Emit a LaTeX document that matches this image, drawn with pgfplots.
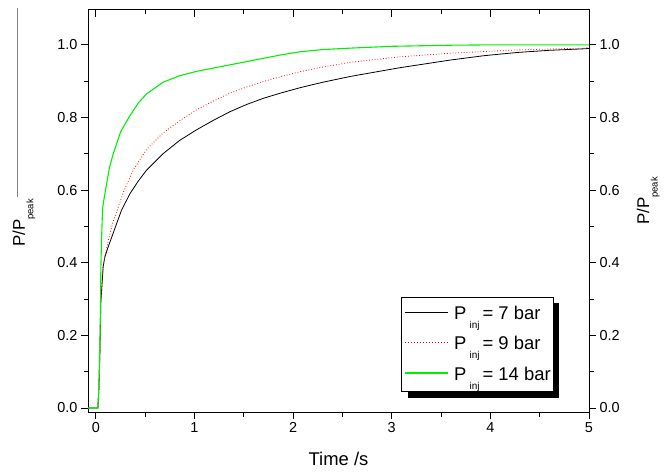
\documentclass[border=0pt]{standalone}
\usepackage{pgfplots}
\pgfplotsset{compat=1.18}
\usepackage{fontspec}
\setmainfont{Liberation Sans}

% lowered small subscript, as the original software sets it
\newcommand{\sub}[1]{\raisebox{-0.5em}{\fontsize{9.5}{9.5}\selectfont #1}}
\newcommand{\lsub}[1]{\,\raisebox{-0.5em}{\fontsize{10}{10}\selectfont #1}\,}

\definecolor{lgreen}{RGB}{0,240,0}

\pgfplotsset{
  base/.style={
    at={(88bp,61bp)}, anchor=south west,
    width=501bp, height=402bp, scale only axis,
    xmin=-0.08, xmax=5, ymin=-0.011, ymax=1.096,
    axis line style={line width=1bp},
    major tick length=7bp, minor tick length=4.5bp,
    every tick/.style={black, line width=0.9bp},
    /pgf/number format/assume math mode=true,
    tick label style={font=\fontsize{14.5}{14.5}\selectfont},
    label style={font=\fontsize{17}{17}\selectfont},
    xtick={0,1,2,3,4,5}, minor x tick num=1,
    ytick={0,0.2,0.4,0.6,0.8,1.0}, minor y tick num=1,
    yticklabel style={/pgf/number format/.cd, fixed, fixed zerofill, precision=1},
  }
}

\pgfplotstableread{
t v
-0.08 0
0.02 0
0.03 0.06
0.04 0.16
0.047 0.29
0.05 0.38
0.058 0.47
0.068 0.55
0.085 0.58
0.11 0.62
0.14 0.665
0.176 0.70
0.25 0.76
0.345 0.805
0.43 0.84
0.514 0.865
0.68 0.897
0.85 0.915
1.02 0.927
1.19 0.936
1.36 0.945
1.53 0.954
1.70 0.963
1.87 0.972
2.07 0.981
2.3 0.987
2.58 0.991
3.0 0.996
3.59 0.999
4.0 1.0
5.0 1.0
}\greendata

\pgfplotstableread{
t v
-0.08 0
0.02 0
0.03 0.05
0.04 0.15
0.05 0.29
0.074 0.39
0.09 0.417
0.125 0.46
0.17 0.51
0.21 0.54
0.28 0.595
0.378 0.655
0.514 0.712
0.68 0.757
0.85 0.791
1.02 0.821
1.19 0.845
1.36 0.867
1.53 0.884
1.70 0.899
1.87 0.912
2.07 0.926
2.3 0.939
2.58 0.952
3.08 0.967
3.59 0.977
4.27 0.986
4.94 0.991
5.0 0.992
}\reddata

\pgfplotstableread{
t v
-0.08 0
0.02 0
0.03 0.05
0.04 0.15
0.05 0.29
0.074 0.39
0.09 0.415
0.12 0.44
0.16 0.47
0.2 0.50
0.26 0.545
0.345 0.59
0.43 0.625
0.514 0.655
0.68 0.700
0.85 0.737
1.02 0.766
1.19 0.792
1.36 0.816
1.53 0.836
1.70 0.853
1.87 0.867
2.07 0.882
2.3 0.897
2.58 0.913
3.08 0.937
3.59 0.958
3.93 0.970
4.27 0.979
4.6 0.985
4.94 0.989
5.0 0.99
}\blackdata

\begin{document}
\begin{tikzpicture}
\useasboundingbox (0,0) rectangle (667bp,473bp);

\begin{axis}[base,
  xtick pos=bottom, ytick pos=left, tick align=outside,
  xlabel={Time /s},
  ylabel={P/P\sub{peak}},
  xlabel style={at={(axis description cs:0.5,-0.132)}, anchor=base, font=\fontsize{18.5}{18.5}\selectfont},
  ylabel style={at={(axis description cs:-0.128,0.47)}, anchor=center},
]
\addplot[black, line width=0.8bp] table[x=t,y=v] {\blackdata};
\addplot[red, line width=0.8bp, dotted] table[x=t,y=v] {\reddata};
\addplot[lgreen, line width=1.1bp] table[x=t,y=v] {\greendata};
\end{axis}

\begin{axis}[base,
  axis x line=none, axis y line*=right, tick align=outside,
  ylabel={P/P\sub{peak}},
  ylabel style={at={(axis description cs:1.118,0.525)}, anchor=center},
]
\end{axis}

\begin{axis}[base,
  axis y line=none, axis x line*=top, tick align=inside,
  xticklabels={},
]
\end{axis}

% legend box with its drop shadow
\fill[black] (407.7bp,75.3bp) rectangle (559.3bp,169.7bp);
\filldraw[fill=white, draw=black, line width=0.8bp] (401.7bp,81.3bp) rectangle (553.3bp,175.7bp);
\begin{scope}[font=\fontsize{18.5}{18.5}\selectfont]
\draw[black, line width=1bp] (405bp,160.7bp) -- (448.3bp,160.7bp);
\node[anchor=base west, inner sep=0pt] at (454bp,153.7bp) {P\lsub{inj}= 7 bar};
\draw[red, dotted, line width=1bp] (405bp,130.7bp) -- (448.3bp,130.7bp);
\node[anchor=base west, inner sep=0pt] at (454bp,123.7bp) {P\lsub{inj}= 9 bar};
\draw[lgreen, line width=1.6bp] (405bp,100bp) -- (448.3bp,100bp);
\node[anchor=base west, inner sep=0pt] at (454bp,92.7bp) {P\lsub{inj}= 14 bar};
\end{scope}

\draw[gray, line width=1bp] (17bp,465bp) -- (17bp,276bp);
\end{tikzpicture}
\end{document}
